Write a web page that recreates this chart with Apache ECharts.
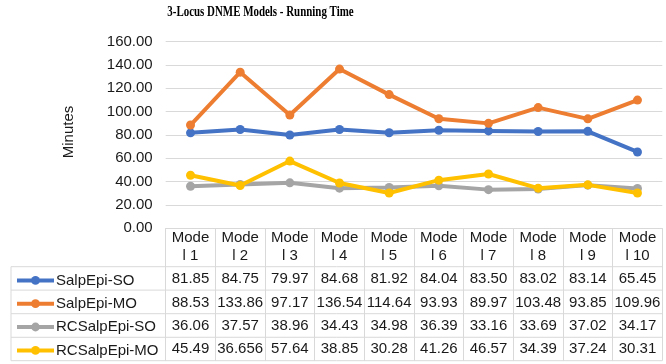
<!DOCTYPE html>
<html>
<head>
<meta charset="utf-8">
<script src="https://cdn.jsdelivr.net/npm/echarts@6/dist/echarts.min.js"></script>
<style>html,body{margin:0;padding:0;background:#fff}#c{width:666px;height:364px}</style>
</head>
<body>
<div id="c"></div>
<script>
const categories = ['Model 1','Model 2','Model 3','Model 4','Model 5','Model 6','Model 7','Model 8','Model 9','Model 10'];
const seriesNames = ['SalpEpi-SO','SalpEpi-MO','RCSalpEpi-SO','RCSalpEpi-MO'];
const salpEpiSO = [81.85, 84.75, 79.97, 84.68, 81.92, 84.04, 83.50, 83.02, 83.14, 65.45];
const salpEpiMO = [88.53, 133.86, 97.17, 136.54, 114.64, 93.93, 89.97, 103.48, 93.85, 109.96];
const rcSalpEpiSO = [36.06, 37.57, 38.96, 34.43, 34.98, 36.39, 33.16, 33.69, 37.02, 34.17];
const rcSalpEpiMO = [45.49, 36.656, 57.64, 38.85, 30.28, 41.26, 46.57, 34.39, 37.24, 30.31];
const yTicks = [0, 20, 40, 60, 80, 100, 120, 140, 160];

const colors = ['#4472C4', '#ED7D31', '#A5A5A5', '#FFC000'];
const allData = [salpEpiSO, salpEpiMO, rcSalpEpiSO, rcSalpEpiMO];
const FONT = '"Liberation Sans", Arial, sans-serif';
const TXT = '#1a1a1a';
const GRIDC = '#d9d9d9';

// layout constants
const L = 165.7, R = 662.3, T = 41.7, B = 228.3;
const rowTops = [266.7, 290.1, 313.7, 337.3, 360.7];
const rowCenters = [279.2, 302.5, 325.8, 349.2];

function fmt(v) {
  const s = String(v);
  const dec = (s.split('.')[1] || '').length;
  return dec > 2 ? s : v.toFixed(2);
}

const xAxes = [{
  type: 'category', data: categories, gridIndex: 0, position: 'bottom', boundaryGap: true,
  axisLine: { show: true, lineStyle: { color: GRIDC, width: 1 } },
  axisTick: { show: true, interval: 0, length: rowTops[4] - B, lineStyle: { color: GRIDC, width: 1 } },
  axisLabel: {
    interval: 0, margin: 18.4, verticalAlign: 'middle', lineHeight: 18,
    fontFamily: FONT, fontSize: 15, color: TXT,
    formatter: s => s.slice(0, 4) + '\n' + s.slice(4)
  }
}];
allData.forEach((arr, i) => {
  xAxes.push({
    type: 'category', data: categories, gridIndex: 0, position: 'bottom', boundaryGap: true,
    offset: rowCenters[i] - B,
    axisLine: { show: false }, axisTick: { show: false }, splitLine: { show: false },
    axisLabel: {
      interval: 0, margin: 0, verticalAlign: 'middle',
      fontFamily: FONT, fontSize: 15, color: TXT,
      formatter: (v, idx) => fmt(arr[idx])
    }
  });
});

const graphic = [{
  type: 'text', x: 260.5, y: 12.5, scaleX: 0.78,
  style: { text: '3-Locus DNME Models - Running Time', font: 'bold 14px "Liberation Serif", "Times New Roman", serif',
    fill: '#000', align: 'center', verticalAlign: 'middle' }
}];
rowTops.forEach(y => {
  graphic.push({ type: 'line', shape: { x1: 11, y1: y, x2: R, y2: y }, style: { stroke: GRIDC, lineWidth: 1 }, silent: true });
});
graphic.push({ type: 'line', shape: { x1: 11, y1: rowTops[0], x2: 11, y2: rowTops[4] }, style: { stroke: GRIDC, lineWidth: 1 }, silent: true });

const LH = 11;
const legends = seriesNames.map((n, i) => ({
  show: true, orient: 'vertical', left: 15, top: rowCenters[i] - LH / 2 - 0.8, padding: 0,
  height: 40, itemWidth: 37, itemHeight: LH, itemGap: 0,
  data: [n],
  lineStyle: { width: 4 },
  textStyle: { fontFamily: FONT, fontSize: 15, color: TXT, padding: [0, 0, 0, -3] }
}));

const option = {
  animation: false,
  backgroundColor: '#fff',
  color: colors,
  grid: { left: L, right: 666 - R, top: T, bottom: 364 - B, containLabel: false },
  legend: legends,
  xAxis: xAxes,
  yAxis: {
    type: 'value', min: yTicks[0], max: yTicks[yTicks.length - 1], interval: yTicks[1] - yTicks[0],
    name: 'Minutes', nameLocation: 'middle', nameGap: 89, nameRotate: 90,
    nameTextStyle: { fontFamily: FONT, fontSize: 15, color: TXT, padding: [0, 0, 0, 6] },
    axisLine: { show: false }, axisTick: { show: false },
    splitLine: { show: true, lineStyle: { color: GRIDC, width: 1 } },
    axisLabel: { fontFamily: FONT, fontSize: 15, color: TXT, margin: 13, formatter: v => v.toFixed(2) }
  },
  series: seriesNames.map((n, i) => ({
    name: n, type: 'line', data: allData[i], xAxisIndex: 0,
    symbol: 'circle', symbolSize: 9, showSymbol: true,
    lineStyle: { width: 4, color: colors[i] },
    itemStyle: { color: colors[i] },
    z: 2 + i
  })),
  graphic: graphic
};

const chart = echarts.init(document.getElementById('c'), null, { renderer: 'canvas' });
chart.setOption(option);
</script>
</body>
</html>
